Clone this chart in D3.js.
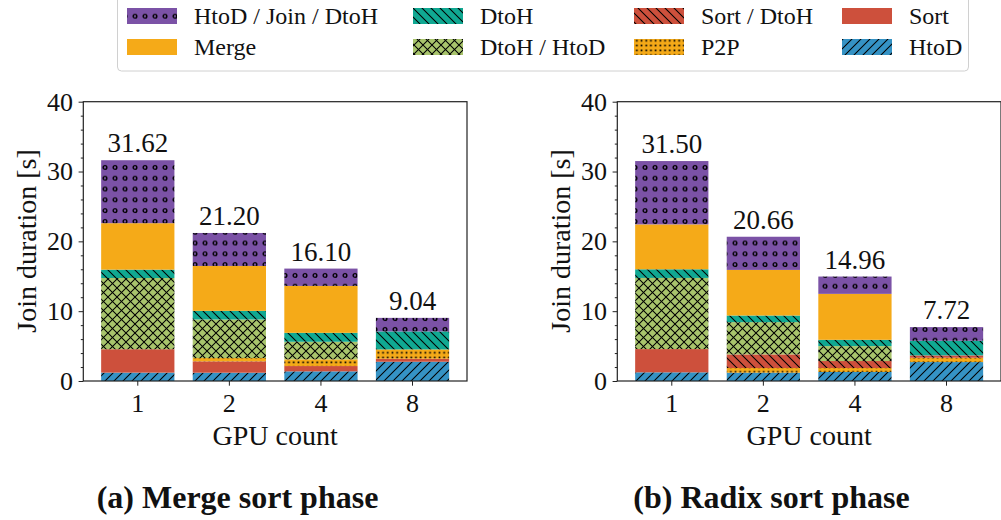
<!DOCTYPE html>
<html><head><meta charset="utf-8">
<script src="https://cdn.jsdelivr.net/npm/d3@7"></script>
<style>body{margin:0;background:#fff} svg{display:block} svg text{font-family:"Liberation Serif",serif;}</style>
</head><body>
<svg id="chart" width="1001" height="520"></svg>
<script>
// ---------- data ----------
const gpuCounts = ["1", "2", "4", "8"];
const seriesKeys = ["HtoD", "Sort", "P2P", "Sort / DtoH", "DtoH / HtoD", "DtoH", "Merge", "HtoD / Join / DtoH"];

// (a) Merge sort phase, bottom to top
const mergeHtoD        = [1.20, 1.19, 1.38, 2.76];
const mergeSort        = [3.35, 1.62, 0.76, 0.43];
const mergeP2P         = [0.00, 0.48, 0.96, 1.33];
const mergeSortDtoH    = [0.00, 0.00, 0.00, 0.00];
const mergeDtoHHtoD    = [10.20, 5.52, 2.52, 0.00];
const mergeDtoH        = [1.20, 1.24, 1.28, 2.58];
const mergeMerge       = [6.65, 6.43, 6.72, 0.00];
const mergeHtoDJoinDtoH= [9.02, 4.72, 2.48, 1.94];
const mergeTotals      = ["31.62", "21.20", "16.10", "9.04"];

// (b) Radix sort phase, bottom to top
const radixHtoD        = [1.24, 1.19, 1.29, 2.71];
const radixSort        = [3.33, 0.00, 0.00, 0.00];
const radixP2P         = [0.00, 0.67, 0.57, 0.62];
const radixSortDtoH    = [0.00, 1.95, 1.00, 0.34];
const radixDtoHHtoD    = [10.19, 4.62, 2.14, 0.00];
const radixDtoH        = [1.24, 0.95, 0.90, 2.09];
const radixMerge       = [6.43, 6.53, 6.58, 0.00];
const radixHtoDJoinDtoH= [9.07, 4.75, 2.48, 1.96];
const radixTotals      = ["31.50", "20.66", "14.96", "7.72"];

const yTicks = [0, 10, 20, 30, 40];
const yMinorTicks = [2, 4, 6, 8, 12, 14, 16, 18, 22, 24, 26, 28, 32, 34, 36, 38];
const panelTitles = ["(a) Merge sort phase", "(b) Radix sort phase"];
const xTitle = "GPU count";
const yTitle = "Join duration [s]";

// ---------- styles ----------
const FONT = "Liberation Serif";
const styles = {
  "HtoD":               {color: "#3592c4", pat: "fwd"},
  "Sort":               {color: "#cd503c", pat: null},
  "P2P":                {color: "#f5aa18", pat: "dots"},
  "Sort / DtoH":        {color: "#cd503c", pat: "back"},
  "DtoH / HtoD":        {color: "#a8c46c", pat: "cross"},
  "DtoH":               {color: "#10a892", pat: "back"},
  "Merge":              {color: "#f5aa18", pat: null},
  "HtoD / Join / DtoH": {color: "#7b52a6", pat: "rings"}
};

const svg = d3.select("#chart");
const defs = svg.append("defs");

function makePattern(id, color, type) {
  let w = 9, h = 9;
  if (type === "dots") { w = 4.7; h = 4.8; }
  if (type === "rings") { w = 10; h = 10.8; }
  const p = defs.append("pattern").attr("id", id)
    .attr("patternUnits", "userSpaceOnUse").attr("width", w).attr("height", h);
  p.append("rect").attr("width", w).attr("height", h).attr("fill", color);
  const ln = (d) => p.append("path").attr("d", d).attr("stroke", "#000").attr("stroke-width", 1.05).attr("fill", "none");
  if (type === "fwd" || type === "cross") ln(`M-1,1 L1,-1 M0,${h} L${w},0 M${w-1},${h+1} L${w+1},${h-1}`);
  if (type === "back" || type === "cross") ln(`M-1,${h-1} L1,${h+1} M0,0 L${w},${h} M${w-1},-1 L${w+1},1`);
  if (type === "dots") p.append("rect").attr("x", 1.5).attr("y", 1.5).attr("width", 1.7).attr("height", 1.7).attr("fill", "#000");
  if (type === "rings") p.append("circle").attr("cx", 5).attr("cy", 5.4).attr("r", 1.85)
    .attr("fill", "none").attr("stroke", "#000").attr("stroke-width", 1.4);
}
const fillFor = {};
seriesKeys.forEach((k, i) => {
  const s = styles[k];
  if (s.pat) { makePattern("pat" + i, s.color, s.pat); fillFor[k] = `url(#pat${i})`; }
  else fillFor[k] = s.color;
});

const y = d3.scaleLinear().domain([0, 40]).range([381, 101.7]);

function drawPanel(offsetX, arrays, totals, title) {
  const x0 = 83.3 + offsetX, x1 = 467 + offsetX;
  const x = d3.scaleBand().domain(gpuCounts).range([x0, x1]).paddingInner(0.2).paddingOuter(0.195);
  const rows = gpuCounts.map((g, i) => {
    const r = {gpu: g};
    seriesKeys.forEach((k, j) => r[k] = arrays[j][i]);
    return r;
  });
  const stacked = d3.stack().keys(seriesKeys)(rows);
  const g = svg.append("g");
  g.selectAll("g.layer").data(stacked).join("g").attr("class", "layer")
    .attr("fill", d => fillFor[d.key])
    .selectAll("rect").data(d => d.filter(s => s[1] - s[0] > 0)).join("rect")
    .attr("x", d => x(d.data.gpu)).attr("width", x.bandwidth())
    .attr("y", d => y(d[1])).attr("height", d => y(d[0]) - y(d[1]));

  // totals
  g.selectAll("text.tot").data(rows).join("text").attr("class", "tot")
    .attr("x", d => x(d.gpu) + x.bandwidth() / 2)
    .attr("y", d => y(d3.sum(seriesKeys, k => d[k])) - 8)
    .attr("text-anchor", "middle").attr("font-family", FONT).attr("font-size", 27).attr("fill", "#111")
    .text((d, i) => totals[i]);

  // axes
  const ya = g.append("g").attr("transform", `translate(${x0},0)`)
    .call(d3.axisLeft(y).tickValues(yTicks).tickSize(4.7).tickSizeOuter(0).tickPadding(5.6));
  const ym = g.append("g").attr("transform", `translate(${x0},0)`)
    .call(d3.axisLeft(y).tickValues(yMinorTicks).tickSize(2.5).tickSizeOuter(0).tickFormat(""));
  const xa = g.append("g").attr("transform", `translate(0,381)`)
    .call(d3.axisBottom(x).tickSize(4.7).tickSizeOuter(0).tickPadding(7.5));
  [ya, ym, xa].forEach(a => {
    a.attr("font-family", FONT);
    a.select(".domain").remove();
    a.selectAll("line").attr("stroke", "#222").attr("stroke-width", 1);
    a.selectAll("text").attr("font-family", FONT).attr("font-size", 26).attr("fill", "#111");
  });
  // frame
  g.append("rect").attr("x", x0).attr("y", y(40)).attr("width", x1 - x0).attr("height", y(0) - y(40))
    .attr("fill", "none").attr("stroke", "#222").attr("stroke-width", 1.2);

  g.append("text").attr("x", (x0 + x1) / 2).attr("y", 445).attr("text-anchor", "middle")
    .attr("font-family", FONT).attr("font-size", 28).attr("fill", "#111").text(xTitle);
  g.append("text").attr("transform", `translate(${36 + offsetX},241) rotate(-90)`).attr("text-anchor", "middle")
    .attr("font-family", FONT).attr("font-size", 28).attr("fill", "#111").text(yTitle);
  g.append("text").attr("x", 237.5 + offsetX).attr("y", 507.5).attr("text-anchor", "middle")
    .attr("font-family", FONT).attr("font-size", 32).attr("font-weight", "bold").attr("fill", "#111").text(title);
}

drawPanel(0, [mergeHtoD, mergeSort, mergeP2P, mergeSortDtoH, mergeDtoHHtoD, mergeDtoH, mergeMerge, mergeHtoDJoinDtoH], mergeTotals, panelTitles[0]);
drawPanel(534, [radixHtoD, radixSort, radixP2P, radixSortDtoH, radixDtoHHtoD, radixDtoH, radixMerge, radixHtoDJoinDtoH], radixTotals, panelTitles[1]);

// ---------- legend ----------
const legend = svg.append("g");
legend.append("rect").attr("x", 117.5).attr("y", -4).attr("width", 851).attr("height", 75).attr("rx", 4)
  .attr("fill", "#fff").attr("stroke", "#d0d0d0").attr("stroke-width", 1);
const legendOrder = seriesKeys.slice().reverse();
const colX = [127, 413, 634, 842];
const rowY = [16, 47];
legendOrder.forEach((k, i) => {
  const c = Math.floor(i / 2), r = i % 2;
  legend.append("rect").attr("x", colX[c]).attr("y", rowY[r] - 8).attr("width", 50).attr("height", 16).attr("fill", fillFor[k]);
  legend.append("text").attr("x", colX[c] + 67).attr("y", rowY[r] + 8)
    .attr("font-family", FONT).attr("font-size", 24).attr("fill", "#111").text(k);
});
</script>
</body></html>
